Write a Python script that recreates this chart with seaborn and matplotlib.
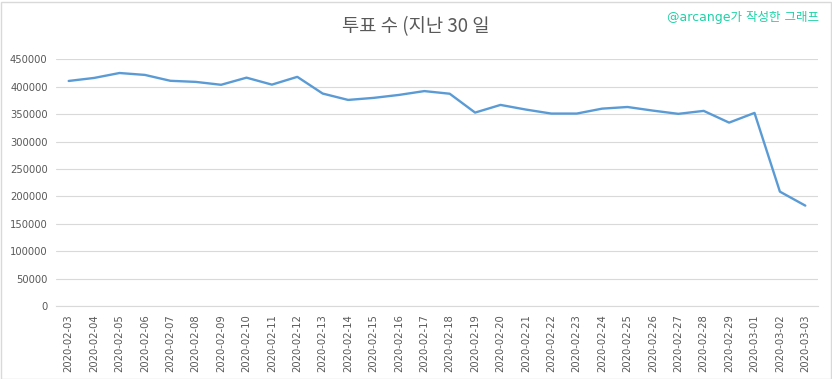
import matplotlib
matplotlib.use("Agg")
import matplotlib.pyplot as plt
import seaborn as sns
import pandas as pd
from matplotlib.patches import Rectangle

dates = ["2020-02-03", "2020-02-04", "2020-02-05", "2020-02-06", "2020-02-07",
         "2020-02-08", "2020-02-09", "2020-02-10", "2020-02-11", "2020-02-12",
         "2020-02-13", "2020-02-14", "2020-02-15", "2020-02-16", "2020-02-17",
         "2020-02-18", "2020-02-19", "2020-02-20", "2020-02-21", "2020-02-22",
         "2020-02-23", "2020-02-24", "2020-02-25", "2020-02-26", "2020-02-27",
         "2020-02-28", "2020-02-29", "2020-03-01", "2020-03-02", "2020-03-03"]
votes = [410500, 416000, 425000, 421500, 410800, 408800, 403500, 416500, 403800, 418000,
         387500, 375900, 379600, 385000, 392000, 387200, 352800, 366800, 358300, 351000,
         351000, 360000, 363000, 356400, 350500, 355900, 334500, 352200, 208600, 183100]
yticks = [0, 50000, 100000, 150000, 200000, 250000, 300000, 350000, 400000, 450000]
title = "투표 수 (지난 30 일"
watermark = "@arcange가 작성한 그래프"

sns.set_theme(style="white")
plt.rcParams["font.family"] = ["DejaVu Sans", "Noto Sans CJK KR"]

df = pd.DataFrame({"pos": list(range(len(dates))), "votes": votes})

fig = plt.figure(figsize=(8.32, 3.79), dpi=100)
ax = fig.add_axes([56 / 832, 1 - 306 / 379, (818 - 56) / 832, (306 - 59.3) / 379])

sns.lineplot(data=df, x="pos", y="votes", ax=ax, color="#5b9bd5", linewidth=1.7)

ax.set_xlim(-0.5, len(dates) - 0.5)
ax.set_ylim(0, 450000)
ax.set_yticks(yticks)
ax.set_yticklabels([str(v) for v in yticks])
ax.set_xticks(range(len(dates)))
ax.set_xticklabels(dates, rotation=90)
ax.tick_params(axis="both", length=0, labelsize=7.2, colors="#595959", pad=6)
ax.tick_params(axis="x", pad=6)
ax.set_xlabel("")
ax.set_ylabel("")
ax.grid(axis="y", color="#d9d9d9", linewidth=0.8)
ax.grid(axis="x", visible=False)
ax.set_axisbelow(True)
for s in ["top", "right", "left"]:
    ax.spines[s].set_visible(False)
ax.spines["bottom"].set_color("#d9d9d9")
ax.spines["bottom"].set_linewidth(0.8)

fig.text(416 / 832, 1 - 27 / 379, title, ha="center", va="center", fontsize=13.5,
         color="#595959", family=["Noto Sans CJK KR", "DejaVu Sans"])
fig.text(819 / 832, 1 - 18 / 379, watermark, ha="right", va="center", fontsize=9,
         color="#1ed2a6", family=["DejaVu Sans", "Noto Sans CJK KR"])

fig.patches.append(Rectangle((0.5 / 832, 0.5 / 379), 1 - 2 / 832, 1 - 2 / 379,
                             transform=fig.transFigure, fill=False,
                             edgecolor="#d9d9d9", linewidth=1))

fig.savefig("out.png", dpi=100)
